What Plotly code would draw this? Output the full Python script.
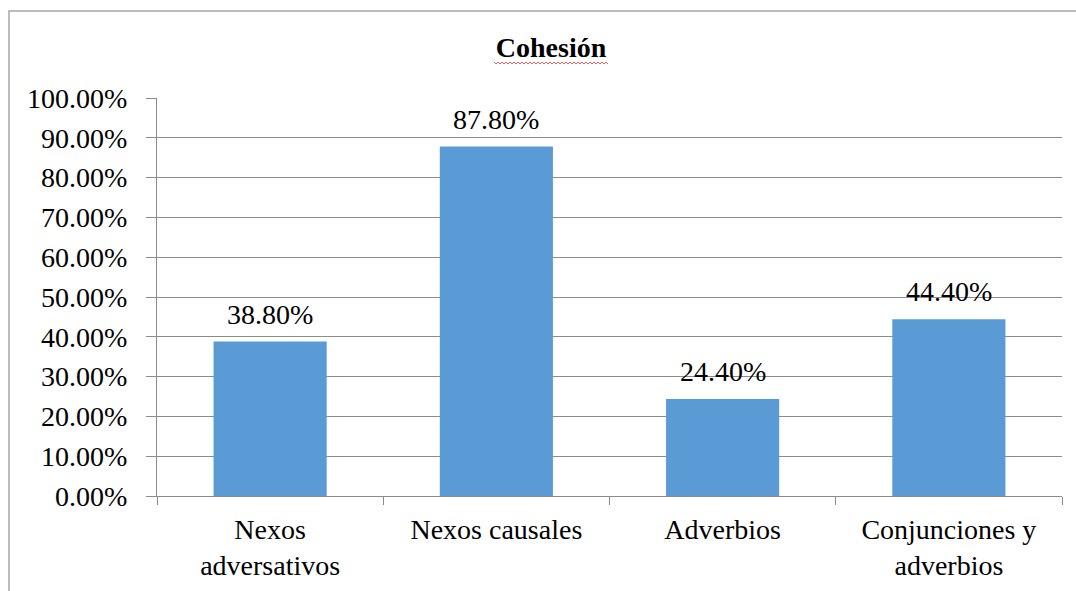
import plotly.graph_objects as go

categories = ["Nexos<br>adversativos", "Nexos causales", "Adverbios", "Conjunciones y<br>adverbios"]
values = [0.388, 0.878, 0.244, 0.444]
labels = ["38.80%", "87.80%", "24.40%", "44.40%"]
title_text = "Cohesión"

FONT = "Liberation Serif"
GRID = "#8c8c8c"

fig = go.Figure(go.Bar(
    x=categories, y=values,
    marker=dict(color="#5B9BD5", line=dict(width=0)),
    width=0.5, hoverinfo="skip",
))

for c, v, t in zip(categories, values, labels):
    fig.add_annotation(x=c, y=v, text=t, showarrow=False, yanchor="bottom",
                       yshift=10, font=dict(family=FONT, size=28, color="black"))

fig.update_layout(
    width=1076, height=591,
    margin=dict(l=157, r=14, t=98, b=95),
    paper_bgcolor="white", plot_bgcolor="white",
    showlegend=False,
    title=dict(text="<b>" + title_text + "</b>", x=551/1076, xanchor="center",
               y=1 - 47/591, yanchor="middle", yref="container",
               font=dict(family=FONT, size=28, color="black")),
    font=dict(family=FONT, size=28, color="black"),
)

fig.update_yaxes(range=[0, 1], dtick=0.1, tickformat=".2%",
                 showgrid=True, gridcolor=GRID, gridwidth=1,
                 showline=True, linecolor=GRID, linewidth=1,
                 ticks="outside", ticklen=10, tickcolor=GRID,
                 ticklabelstandoff=13, zeroline=False, automargin=False,
                 tickfont=dict(family=FONT, size=28, color="black"))
fig.update_xaxes(showgrid=False, showline=True, linecolor=GRID, linewidth=1,
                 ticks="outside", tickson="boundaries", ticklen=8, tickcolor=GRID,
                 ticklabelstandoff=8, automargin=False,
                 tickfont=dict(family=FONT, size=28, color="black"))

# chart border
fig.add_shape(type="rect", xref="paper", yref="paper",
              x0=-148/905, x1=1.2, y0=-0.5, y1=1 + (98 - 11)/398,
              line=dict(color="#a6a6a6", width=1.5), layer="below")

# spell-check wavy underline under the title
def px_to_paper(px, py):
    return (px - 157) / 905, (496 - py) / 398

pts = []
for i, px in enumerate(range(494, 610, 2)):
    py = 62 if i % 2 == 0 else 64
    pts.append(px_to_paper(px, py))
path = "M " + " L ".join(f"{x:.5f},{y:.5f}" for x, y in pts)
fig.add_shape(type="path", xref="paper", yref="paper", path=path,
              line=dict(color="#e06060", width=1))

fig.write_html("out.html", config={"displayModeBar": False},
               post_script="document.body.style.margin='0';document.body.style.overflow='hidden';")
